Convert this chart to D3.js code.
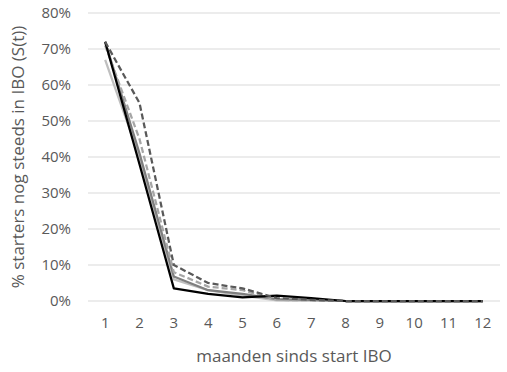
<!DOCTYPE html>
<html>
<head>
<meta charset="utf-8">
<script src="https://cdn.jsdelivr.net/npm/d3@7"></script>
<style>
  html, body { margin: 0; padding: 0; background: #fff; }
  svg { display: block; font-family: "Open Sans", "Liberation Sans", "DejaVu Sans", sans-serif; }
</style>
</head>
<body>
<svg id="chart" width="507" height="372"></svg>
<script>
// Months since start
const months = [1, 2, 3, 4, 5, 6, 7, 8, 9, 10, 11, 12];
const yTicks = [0, 0.1, 0.2, 0.3, 0.4, 0.5, 0.6, 0.7, 0.8];

// Share of starters still in IBO, per cohort
const cohortA = [0.72, 0.38, 0.035, 0.02, 0.01, 0.015, 0.008, 0, 0, 0, 0, 0];
const cohortB = [0.72, 0.55, 0.10, 0.05, 0.035, 0.008, 0.003, 0, 0, 0, 0, 0];
const cohortC = [0.71, 0.45, 0.08, 0.04, 0.03, 0.003, 0.002, 0, 0, 0, 0, 0];
const cohortD = [0.72, 0.41, 0.068, 0.03, 0.02, 0.005, 0.003, 0, 0, 0, 0, 0];
const cohortE = [0.67, 0.40, 0.06, 0.03, 0.015, 0.002, 0.001, 0, 0, 0, 0, 0];

const series = [
  { values: cohortE, color: "#bfbfbf", dash: null },
  { values: cohortD, color: "#7f7f7f", dash: null },
  { values: cohortC, color: "#a6a6a6", dash: "6,3" },
  { values: cohortA, color: "#000000", dash: null },
  { values: cohortB, color: "#595959", dash: "6,3" }
];

const svg = d3.select("#chart");
const margin = { left: 88, right: 7, top: 13, bottom: 71 };
const W = 507, H = 372;

const x = d3.scaleBand().domain(months).range([margin.left, W - margin.right]);
const y = d3.scaleLinear().domain([0, 0.8]).range([H - margin.bottom, margin.top]);

// Gridlines
svg.append("g")
  .selectAll("line")
  .data(yTicks)
  .join("line")
  .attr("x1", margin.left)
  .attr("x2", W - margin.right)
  .attr("y1", d => y(d))
  .attr("y2", d => y(d))
  .attr("stroke", "#d9d9d9")
  .attr("stroke-width", 1);

// Y axis labels
const yAxis = svg.append("g")
  .attr("transform", `translate(${margin.left - 17},0)`)
  .call(d3.axisLeft(y).tickValues(yTicks).tickFormat(d3.format(".0%")).tickSize(0).tickPadding(0));
yAxis.select(".domain").remove();
yAxis.selectAll("text").attr("fill", "#595959").style("font-size", "15px")
  .style("font-family", '"Open Sans", "Liberation Sans", sans-serif');

// X axis labels
const xAxis = svg.append("g")
  .attr("transform", `translate(0,${H - margin.bottom + 14})`)
  .call(d3.axisBottom(x).tickSize(0).tickPadding(2));
xAxis.select(".domain").remove();
xAxis.selectAll("text").attr("fill", "#595959").style("font-size", "15px")
  .style("font-family", '"Open Sans", "Liberation Sans", sans-serif');

// Axis titles
svg.append("text")
  .attr("x", (margin.left + W - margin.right) / 2)
  .attr("y", 362)
  .attr("text-anchor", "middle")
  .attr("fill", "#595959")
  .style("font-size", "17px")
  .text("maanden sinds start IBO");

svg.append("text")
  .attr("transform", `translate(24,${(margin.top + H - margin.bottom) / 2}) rotate(-90)`)
  .attr("text-anchor", "middle")
  .attr("fill", "#595959")
  .style("font-size", "17px")
  .text("% starters nog steeds in IBO (S(t))");

// Lines
const line = d3.line()
  .x((d, i) => x(months[i]) + x.bandwidth() / 2)
  .y(d => y(d));

svg.append("g")
  .selectAll("path")
  .data(series)
  .join("path")
  .attr("d", d => line(d.values))
  .attr("fill", "none")
  .attr("stroke", d => d.color)
  .attr("stroke-width", 2.25)
  .attr("stroke-linejoin", "round")
  .attr("stroke-dasharray", d => d.dash);
</script>
</body>
</html>
